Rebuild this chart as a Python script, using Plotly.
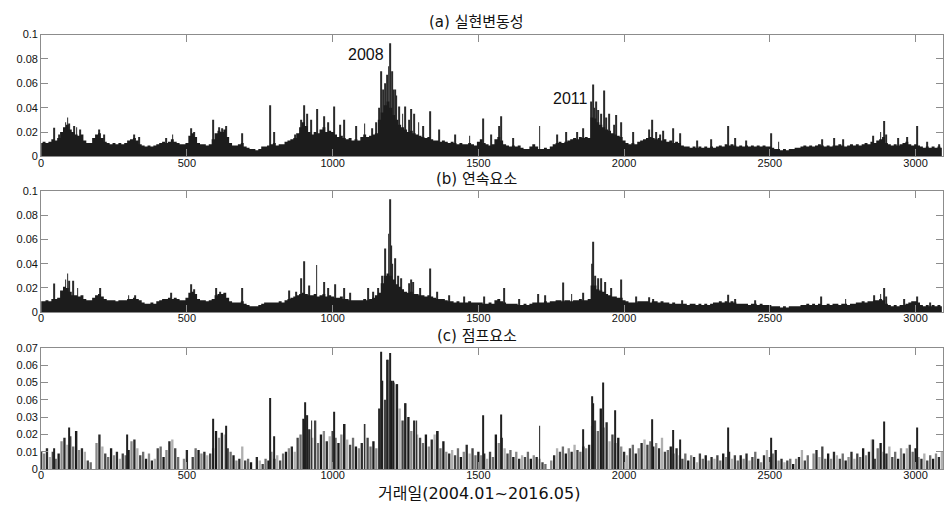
import plotly.graph_objects as go
from plotly.subplots import make_subplots

# ---------------- data ----------------
STEP_DAYS = list(range(0, 3100, 10))

# (a) realized volatility: level of the dense mass every 10 trading days
rv_body = [
    0.011, 0.012, 0.011, 0.012, 0.014, 0.013, 0.015, 0.020, 0.024, 0.026,
    0.022, 0.020, 0.018, 0.017, 0.018, 0.013, 0.011, 0.011, 0.015, 0.018,
    0.019, 0.015, 0.012, 0.011, 0.010, 0.011, 0.010, 0.011, 0.010, 0.011,
    0.013, 0.014, 0.015, 0.013, 0.010, 0.009, 0.008, 0.009, 0.008, 0.009,
    0.010, 0.011, 0.012, 0.011, 0.012, 0.014, 0.012, 0.011, 0.010, 0.010,
    0.011, 0.017, 0.019, 0.016, 0.011, 0.010, 0.010, 0.009, 0.010, 0.014,
    0.019, 0.021, 0.020, 0.022, 0.016, 0.011, 0.009, 0.009, 0.010, 0.011,
    0.008, 0.007, 0.006, 0.006, 0.005, 0.006, 0.008, 0.008, 0.009, 0.010,
    0.011, 0.009, 0.010, 0.010, 0.012, 0.013, 0.014, 0.015, 0.019, 0.024,
    0.028, 0.025, 0.020, 0.018, 0.020, 0.019, 0.022, 0.024, 0.020, 0.021,
    0.020, 0.018, 0.016, 0.017, 0.015, 0.014, 0.015, 0.013, 0.014, 0.013,
    0.016, 0.018, 0.016, 0.017, 0.018, 0.019, 0.030, 0.036, 0.042, 0.045,
    0.040, 0.034, 0.030, 0.026, 0.024, 0.022, 0.020, 0.021, 0.019, 0.018,
    0.017, 0.016, 0.015, 0.016, 0.014, 0.013, 0.013, 0.012, 0.013, 0.012,
    0.011, 0.012, 0.011, 0.010, 0.011, 0.010, 0.010, 0.011, 0.010, 0.009,
    0.012, 0.014, 0.011, 0.010, 0.009, 0.010, 0.014, 0.016, 0.013, 0.010,
    0.009, 0.008, 0.009, 0.008, 0.009, 0.007, 0.006, 0.006, 0.008, 0.010,
    0.008, 0.006, 0.006, 0.007, 0.006, 0.008, 0.010, 0.011, 0.012, 0.011,
    0.012, 0.013, 0.014, 0.015, 0.014, 0.016, 0.015, 0.016, 0.015, 0.032,
    0.031, 0.028, 0.026, 0.024, 0.022, 0.021, 0.019, 0.018, 0.017, 0.016,
    0.013, 0.011, 0.010, 0.011, 0.010, 0.012, 0.013, 0.014, 0.015, 0.016,
    0.015, 0.014, 0.015, 0.013, 0.014, 0.012, 0.013, 0.011, 0.012, 0.011,
    0.009, 0.008, 0.008, 0.007, 0.008, 0.007, 0.008, 0.007, 0.008, 0.007,
    0.008, 0.007, 0.008, 0.009, 0.008, 0.010, 0.009, 0.010, 0.009, 0.008,
    0.009, 0.008, 0.009, 0.008, 0.009, 0.008, 0.009, 0.008, 0.009, 0.008,
    0.008, 0.007, 0.006, 0.006, 0.005, 0.006, 0.005, 0.006, 0.006, 0.007,
    0.007, 0.008, 0.009, 0.008, 0.009, 0.008, 0.009, 0.010, 0.009, 0.008,
    0.009, 0.008, 0.009, 0.009, 0.010, 0.009, 0.008, 0.009, 0.010, 0.009,
    0.010, 0.009, 0.010, 0.011, 0.010, 0.012, 0.011, 0.013, 0.014, 0.016,
    0.011, 0.010, 0.009, 0.010, 0.009, 0.010, 0.011, 0.012, 0.010, 0.009,
    0.010, 0.009, 0.008, 0.007, 0.008, 0.007, 0.008, 0.007, 0.008, 0.007,
]
rv_spike_days = [
    45, 62, 84, 91, 97, 112, 122, 135, 200, 215, 320, 335, 430, 451, 515, 525,
    591, 610, 622, 636, 690, 787, 800, 870, 893, 903, 912, 925, 948, 972, 985,
    1006, 1025, 1039, 1080, 1110, 1135, 1150, 1160, 1165, 1172, 1180, 1188,
    1192, 1197, 1203, 1207, 1213, 1218, 1229, 1240, 1250, 1262, 1270, 1281,
    1295, 1310, 1334, 1365, 1420, 1470, 1517, 1545, 1572, 1579, 1620, 1710,
    1770, 1800, 1840, 1860, 1888, 1893, 1897, 1905, 1912, 1922, 1930, 1938,
    1950, 1965, 1974, 1990, 2030, 2085, 2097, 2110, 2125, 2134, 2168, 2193,
    2250, 2300, 2358, 2380, 2420, 2504, 2530, 2680, 2720, 2750, 2853, 2880,
    2891, 2900, 2940, 2970, 3005, 3040, 3080,
]
rv_spike_vals = [
    0.0235, 0.018, 0.028, 0.032, 0.027, 0.025, 0.024, 0.022, 0.022, 0.018, 0.018, 0.016, 0.015, 0.018, 0.023, 0.020,
    0.030, 0.024, 0.023, 0.025, 0.019, 0.042, 0.020, 0.018, 0.030, 0.042, 0.035, 0.030, 0.039, 0.033, 0.028,
    0.041, 0.026, 0.030, 0.025, 0.027, 0.023, 0.028, 0.040, 0.070, 0.055, 0.060, 0.067,
    0.074, 0.093, 0.070, 0.055, 0.055, 0.050, 0.041, 0.035, 0.041, 0.030, 0.039, 0.035,
    0.028, 0.025, 0.037, 0.022, 0.018, 0.017, 0.031, 0.018, 0.025, 0.033, 0.015, 0.025,
    0.018, 0.020, 0.020, 0.023, 0.045, 0.059, 0.040, 0.045, 0.038, 0.035, 0.054, 0.032,
    0.035, 0.026, 0.034, 0.028, 0.020, 0.022, 0.030, 0.020, 0.018, 0.021, 0.023, 0.019,
    0.013, 0.014, 0.025, 0.015, 0.013, 0.019, 0.012, 0.014, 0.015, 0.014, 0.017, 0.020,
    0.029, 0.018, 0.015, 0.016, 0.025, 0.012, 0.010,
]

# (b) continuous component
cc_body = [
    0.009, 0.009, 0.010, 0.009, 0.011, 0.011, 0.012, 0.018, 0.021, 0.020,
    0.017, 0.014, 0.014, 0.013, 0.014, 0.011, 0.010, 0.010, 0.012, 0.014,
    0.015, 0.013, 0.011, 0.010, 0.010, 0.010, 0.009, 0.010, 0.010, 0.010,
    0.011, 0.011, 0.012, 0.011, 0.010, 0.008, 0.007, 0.007, 0.008, 0.007,
    0.009, 0.010, 0.011, 0.011, 0.012, 0.011, 0.012, 0.011, 0.010, 0.010,
    0.012, 0.016, 0.017, 0.015, 0.011, 0.010, 0.010, 0.009, 0.010, 0.011,
    0.014, 0.015, 0.015, 0.016, 0.012, 0.009, 0.008, 0.008, 0.008, 0.009,
    0.007, 0.006, 0.005, 0.005, 0.005, 0.006, 0.007, 0.008, 0.008, 0.008,
    0.008, 0.008, 0.009, 0.008, 0.010, 0.011, 0.012, 0.013, 0.014, 0.015,
    0.016, 0.015, 0.014, 0.014, 0.015, 0.013, 0.014, 0.015, 0.013, 0.014,
    0.013, 0.012, 0.012, 0.013, 0.011, 0.011, 0.010, 0.010, 0.010, 0.010,
    0.010, 0.011, 0.010, 0.011, 0.012, 0.014, 0.016, 0.024, 0.030, 0.032,
    0.030, 0.027, 0.023, 0.021, 0.019, 0.017, 0.016, 0.017, 0.015, 0.015,
    0.014, 0.014, 0.013, 0.014, 0.013, 0.012, 0.011, 0.011, 0.011, 0.010,
    0.009, 0.009, 0.008, 0.009, 0.008, 0.008, 0.008, 0.009, 0.008, 0.008,
    0.008, 0.008, 0.007, 0.007, 0.008, 0.007, 0.010, 0.011, 0.009, 0.008,
    0.007, 0.007, 0.007, 0.007, 0.006, 0.006, 0.007, 0.006, 0.007, 0.008,
    0.008, 0.008, 0.008, 0.009, 0.008, 0.009, 0.009, 0.010, 0.010, 0.009,
    0.010, 0.010, 0.009, 0.010, 0.010, 0.011, 0.010, 0.010, 0.011, 0.022,
    0.022, 0.019, 0.018, 0.017, 0.015, 0.014, 0.013, 0.013, 0.012, 0.012,
    0.010, 0.009, 0.008, 0.008, 0.008, 0.009, 0.009, 0.009, 0.009, 0.008,
    0.009, 0.009, 0.008, 0.009, 0.008, 0.008, 0.007, 0.008, 0.007, 0.007,
    0.007, 0.007, 0.006, 0.007, 0.007, 0.006, 0.007, 0.006, 0.007, 0.006,
    0.007, 0.008, 0.008, 0.009, 0.008, 0.009, 0.008, 0.009, 0.008, 0.007,
    0.007, 0.007, 0.007, 0.006, 0.007, 0.007, 0.006, 0.007, 0.006, 0.006,
    0.006, 0.005, 0.005, 0.005, 0.004, 0.005, 0.004, 0.005, 0.005, 0.005,
    0.005, 0.006, 0.006, 0.007, 0.006, 0.007, 0.006, 0.007, 0.006, 0.006,
    0.007, 0.006, 0.007, 0.007, 0.006, 0.007, 0.007, 0.006, 0.007, 0.007,
    0.008, 0.008, 0.009, 0.008, 0.009, 0.009, 0.010, 0.010, 0.011, 0.010,
    0.007, 0.006, 0.005, 0.006, 0.005, 0.006, 0.006, 0.007, 0.008, 0.009,
    0.009, 0.008, 0.006, 0.005, 0.006, 0.005, 0.006, 0.005, 0.006, 0.005,
]
cc_spike_days = [
    45, 84, 91, 97, 110, 125, 202, 300, 322, 445, 516, 525, 600, 615, 690, 852,
    875, 893, 903, 920, 945, 970, 985, 1008, 1040, 1060, 1122, 1140, 1156, 1170,
    1181, 1192, 1196, 1200, 1205, 1213, 1225, 1235, 1262, 1270, 1276, 1300, 1336,
    1360, 1400, 1450, 1520, 1589, 1640, 1705, 1730, 1790, 1820, 1860, 1890, 1893,
    1900, 1910, 1920, 1935, 1955, 1990, 2040, 2085, 2100, 2200, 2358, 2380, 2450,
    2675, 2760, 2859, 2880, 2891, 2900, 2960, 3005, 3050,
]
cc_spike_vals = [
    0.0236, 0.027, 0.032, 0.026, 0.026, 0.020, 0.020, 0.014, 0.014, 0.016, 0.023, 0.019, 0.020, 0.017, 0.020, 0.018,
    0.017, 0.028, 0.042, 0.022, 0.039, 0.025, 0.020, 0.023, 0.020, 0.016, 0.020, 0.017, 0.020, 0.030,
    0.0525, 0.0646, 0.093, 0.055, 0.040, 0.0445, 0.030, 0.028, 0.024, 0.027, 0.025, 0.020, 0.036,
    0.017, 0.014, 0.013, 0.013, 0.020, 0.011, 0.015, 0.014, 0.0245, 0.015, 0.016, 0.040, 0.058,
    0.030, 0.028, 0.028, 0.025, 0.020, 0.027, 0.013, 0.0123, 0.011, 0.010, 0.0145, 0.011, 0.010,
    0.013, 0.011, 0.014, 0.015, 0.020, 0.013, 0.011, 0.013, 0.008,
]

# (c) jump component
jc_vals = [
    0.010, 0.009, 0.012, 0.007, 0.010, 0.006, 0.009, 0.016, 0.018, 0.014,
    0.019, 0.013, 0.022, 0.011, 0.012, 0.010, 0.005, 0.004, 0.000, 0.015,
    0.020, 0.013, 0.009, 0.007, 0.012, 0.008, 0.010, 0.006, 0.009, 0.008,
    0.011, 0.016, 0.017, 0.012, 0.008, 0.010, 0.006, 0.009, 0.005, 0.006,
    0.012, 0.013, 0.007, 0.011, 0.016, 0.017, 0.012, 0.007, 0.000, 0.006,
    0.011, 0.000, 0.007, 0.012, 0.011, 0.009, 0.010, 0.008, 0.009, 0.012,
    0.022, 0.018, 0.021, 0.020, 0.012, 0.010, 0.008, 0.005, 0.006, 0.013,
    0.005, 0.006, 0.004, 0.000, 0.007, 0.005, 0.003, 0.006, 0.005, 0.010,
    0.006, 0.008, 0.005, 0.009, 0.010, 0.012, 0.013, 0.010, 0.018, 0.020,
    0.029, 0.031, 0.023, 0.018, 0.028, 0.015, 0.020, 0.022, 0.016, 0.019,
    0.022, 0.018, 0.015, 0.020, 0.026, 0.017, 0.014, 0.018, 0.013, 0.012,
    0.015, 0.026, 0.018, 0.013, 0.016, 0.012, 0.035, 0.051, 0.040, 0.063,
    0.051, 0.050, 0.049, 0.035, 0.028, 0.038, 0.030, 0.022, 0.028, 0.020,
    0.018, 0.015, 0.020, 0.013, 0.017, 0.020, 0.022, 0.012, 0.016, 0.010,
    0.009, 0.011, 0.008, 0.012, 0.007, 0.010, 0.014, 0.009, 0.012, 0.008,
    0.010, 0.008, 0.009, 0.006, 0.010, 0.007, 0.020, 0.015, 0.018, 0.012,
    0.009, 0.011, 0.007, 0.010, 0.006, 0.008, 0.007, 0.010, 0.006, 0.008,
    0.007, 0.006, 0.004, 0.003, 0.000, 0.005, 0.008, 0.012, 0.010, 0.013,
    0.009, 0.012, 0.010, 0.014, 0.011, 0.010, 0.013, 0.012, 0.014, 0.025,
    0.028, 0.022, 0.035, 0.024, 0.027, 0.016, 0.020, 0.015, 0.018, 0.013,
    0.010, 0.008, 0.012, 0.014, 0.009, 0.012, 0.015, 0.017, 0.014, 0.016,
    0.013, 0.015, 0.012, 0.018, 0.010, 0.011, 0.013, 0.009, 0.012, 0.008,
    0.006, 0.009, 0.005, 0.008, 0.007, 0.004, 0.009, 0.006, 0.008, 0.005,
    0.007, 0.006, 0.008, 0.005, 0.009, 0.007, 0.010, 0.006, 0.008, 0.005,
    0.008, 0.006, 0.009, 0.005, 0.007, 0.010, 0.006, 0.004, 0.008, 0.011,
    0.007, 0.009, 0.011, 0.005, 0.006, 0.004, 0.005, 0.006, 0.003, 0.006,
    0.007, 0.011, 0.005, 0.008, 0.000, 0.009, 0.011, 0.007, 0.013, 0.006,
    0.009, 0.006, 0.010, 0.008, 0.006, 0.009, 0.005, 0.007, 0.010, 0.006,
    0.009, 0.007, 0.012, 0.008, 0.010, 0.017, 0.006, 0.012, 0.015, 0.010,
    0.009, 0.013, 0.007, 0.010, 0.006, 0.012, 0.009, 0.012, 0.014, 0.010,
    0.012, 0.007, 0.006, 0.009, 0.005, 0.008, 0.006, 0.009, 0.007, 0.010,
]
jc_spike_days = [
    45, 95, 122, 295, 591, 636, 787, 800, 903, 907, 913, 928, 1006, 1039, 1110,
    1165, 1171, 1186, 1196, 1207, 1221, 1250, 1288, 1359, 1517, 1579, 1710, 1860,
    1890, 1894, 1928, 1970, 2097, 2168, 2193, 2358, 2504, 2853, 2891, 3005,
]
jc_spike_vals = [
    0.012, 0.024, 0.022, 0.020, 0.029, 0.025, 0.041, 0.019, 0.028, 0.0385, 0.031, 0.028, 0.033, 0.026, 0.026,
    0.0677, 0.051, 0.063, 0.067, 0.051, 0.049, 0.038, 0.028, 0.022, 0.031, 0.0315, 0.025, 0.023,
    0.042, 0.038, 0.050, 0.034, 0.0287, 0.0225, 0.017, 0.024, 0.018, 0.017, 0.0274, 0.024,
]

titles = ["(a) 실현변동성", "(b) 연속요소", "(c) 점프요소"]
x_title = "거래일(2004.01~2016.05)"
x_ticks = [0, 500, 1000, 1500, 2000, 2500, 3000]
y_ticks_ab = [0, 0.02, 0.04, 0.06, 0.08, 0.1]
y_text_ab = ["0", "0.02", "0.04", "0.06", "0.08", "0.1"]
y_ticks_c = [0, 0.01, 0.02, 0.03, 0.04, 0.05, 0.06, 0.07]
y_text_c = ["0", "0.01", "0.02", "0.03", "0.06", "0.05", "0.06", "0.07"]
notes = [("2008", 1116, 0.0834), ("2011", 1817, 0.0473)]

# ---------------- figure ----------------
W, H = 944, 507
DARK = "#1c1c1c"
fig = make_subplots(rows=3, cols=1)

def body_trace(vals):
    return go.Scatter(x=STEP_DAYS, y=vals, mode="lines", line=dict(width=0, shape="hvh", color=DARK),
                      fill="tozeroy", fillcolor=DARK, hoverinfo="skip")

fig.add_trace(body_trace(rv_body), row=1, col=1)
fig.add_trace(go.Bar(x=rv_spike_days, y=rv_spike_vals, width=3, marker=dict(color="#2a2a2a", line=dict(width=0))), row=1, col=1)
fig.add_trace(body_trace(cc_body), row=2, col=1)
fig.add_trace(go.Bar(x=cc_spike_days, y=cc_spike_vals, width=3, marker=dict(color="#2a2a2a", line=dict(width=0))), row=2, col=1)

shade_cycle = ["#1a1a1a", "#8a8a8a", "#2a2a2a", "#b0b0b0", "#444444", "#6e6e6e"]
jc_colors = [shade_cycle[i % len(shade_cycle)] for i in range(len(jc_vals))]
fig.add_trace(go.Bar(x=STEP_DAYS, y=jc_vals, width=8, marker=dict(color=jc_colors, line=dict(width=0))), row=3, col=1)
fig.add_trace(go.Bar(x=jc_spike_days, y=jc_spike_vals, width=3, marker=dict(color="#202020", line=dict(width=0))), row=3, col=1)

# panel geometry (pixels)
panels = [(29.3, 154.0), (189.3, 313.7), (350.0, 474.3)]
x0 = 38.3 / W
axis_common = dict(
    showline=True, linecolor="#8c8c8c", linewidth=1, mirror="ticks",
    ticks="inside", ticklen=7, tickcolor="#8c8c8c", showgrid=False, zeroline=False,
    tickfont=dict(family="Liberation Sans, Arial, sans-serif", size=11, color="#111"),
)
for i, (top, bot) in enumerate(panels):
    xa = "xaxis" if i == 0 else f"xaxis{i+1}"
    ya = "yaxis" if i == 0 else f"yaxis{i+1}"
    fig.layout[xa].update(domain=[x0, 1.0], range=[0, 3094], tickmode="array",
                          tickvals=x_ticks, ticktext=[str(t) for t in x_ticks],
                          ticklabelstandoff=-4, **axis_common)
    if i < 2:
        fig.layout[ya].update(domain=[1 - bot / H, 1 - top / H], range=[0, 0.1], tickmode="array",
                              tickvals=y_ticks_ab, ticktext=y_text_ab, **axis_common)
    else:
        fig.layout[ya].update(domain=[1 - bot / H, 1 - top / H], range=[0, 0.07], tickmode="array",
                              tickvals=y_ticks_c, ticktext=y_text_c, **axis_common)

TFONT = "DejaVu Sans, Noto Sans CJK KR, sans-serif"
annos = []
title_y = [16, 177, 338]
for t, ty in zip(titles, title_y):
    annos.append(dict(text=t, xref="paper", yref="paper", x=476 / W, y=1 - ty / H,
                      xanchor="center", yanchor="middle", showarrow=False,
                      font=dict(family=TFONT, size=15, color="#111")))
annos.append(dict(text=x_title, xref="paper", yref="paper", x=478 / W, y=1 - 499 / H,
                  xanchor="center", yanchor="middle", showarrow=False,
                  font=dict(family=TFONT, size=16, color="#111")))
for txt, dx, dy in notes:
    annos.append(dict(text=txt, xref="x", yref="y", x=dx, y=dy, xanchor="center", yanchor="middle",
                      showarrow=False, font=dict(family="Liberation Sans, Arial, sans-serif", size=16, color="#111")))

fig.update_layout(
    width=W, height=H, margin=dict(l=0, r=0, t=0, b=0),
    paper_bgcolor="white", plot_bgcolor="white",
    showlegend=False, barmode="overlay", annotations=annos,
)
fig.write_html("out.html")
